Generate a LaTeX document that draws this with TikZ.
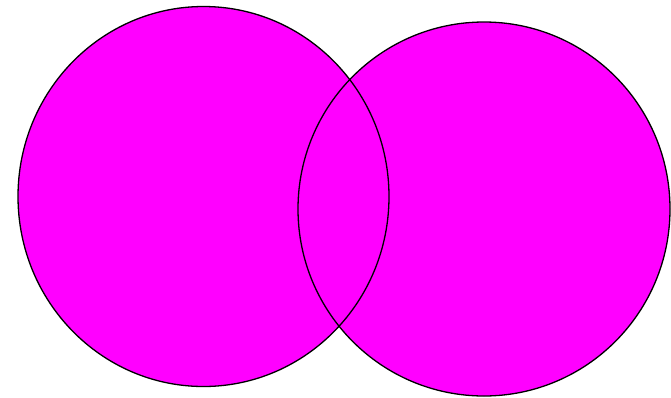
\documentclass[tikz,border=0pt]{standalone}
\definecolor{mag}{RGB}{255,0,255}
\begin{document}
\begin{tikzpicture}[x=1pt,y=-1pt,
  setfill/.style={fill=mag,draw=none},
  setline/.style={draw=black,line width=1.3pt}]
\useasboundingbox (0,0) rectangle (671,397);
\fill[white] (0,0) rectangle (671,397);
\path[setfill] (203.5,196.5) ellipse [x radius=185.5, y radius=190];
\path[setfill] (484,209) ellipse [x radius=186, y radius=187];
\draw[setline] (203.5,196.5) ellipse [x radius=185.5, y radius=190];
\draw[setline] (484,209) ellipse [x radius=186, y radius=187];
\end{tikzpicture}
\end{document}
